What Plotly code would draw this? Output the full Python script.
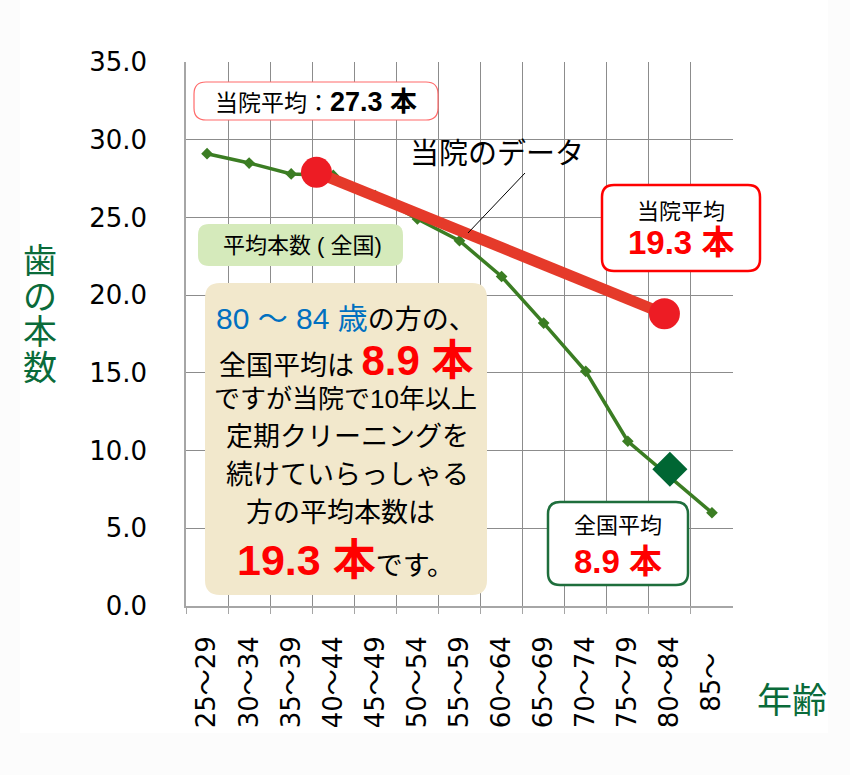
import plotly.graph_objects as go

# ---------------- data ----------------
age_groups = ["25～29", "30～34", "35～39", "40～44", "45～49", "50～54", "55～59",
              "60～64", "65～69", "70～74", "75～79", "80～84", "85～"]
national_avg = [29.1, 28.5, 27.8, 27.7, 26.4, 24.9, 23.5, 21.2, 18.2, 15.1, 10.6, 8.3, 6.0]
clinic_pos = [2.6, 10.87]          # position along the age axis (category index)
clinic_vals = [27.9, 18.8]
highlight_pos = [11]
highlight_vals = [8.8]
y_tickvals = [0, 5, 10, 15, 20, 25, 30, 35]
y_ticktext = ["0.0", "5.0", "10.0", "15.0", "20.0", "25.0", "30.0", "35.0"]

# ---------------- geometry helpers ----------------
W, H = 850, 775
L, R, T, B = 186, 733, 62, 606


def px(x, y):
    return (x - L) / (R - L), (B - y) / (B - T)


def rrect(x0, y0, x1, y1, r):
    def P(x, y):
        a, b = px(x, y)
        return f"{a:.5f},{b:.5f}"
    d = (f"M{P(x0 + r, y0)} L{P(x1 - r, y0)} Q{P(x1, y0)} {P(x1, y0 + r)} "
         f"L{P(x1, y1 - r)} Q{P(x1, y1)} {P(x1 - r, y1)} "
         f"L{P(x0 + r, y1)} Q{P(x0, y1)} {P(x0, y1 - r)} "
         f"L{P(x0, y0 + r)} Q{P(x0, y0)} {P(x0 + r, y0)} Z")
    return d


JP = "Liberation Sans, Noto Sans CJK JP"
GREEN_T = "#0a6b3a"

fig = go.Figure()

fig.add_trace(go.Scatter(
    x=list(range(len(age_groups))), y=national_avg, mode="lines+markers",
    line=dict(color="#3b7d23", width=3.5),
    marker=dict(symbol="diamond", size=9, color="#3b7d23"),
    hoverinfo="skip", showlegend=False))

fig.add_trace(go.Scatter(
    x=highlight_pos, y=highlight_vals, mode="markers",
    marker=dict(symbol="diamond", size=27, color="#006633"),
    hoverinfo="skip", showlegend=False))

fig.add_trace(go.Scatter(
    x=clinic_pos, y=clinic_vals, mode="lines+markers",
    line=dict(color="#e53a2a", width=11),
    marker=dict(symbol="circle", size=31, color="#ed1c24"),
    hoverinfo="skip", showlegend=False))

shapes = []
# white page area
a0 = px(20, 0)
a1 = px(828, 733)
shapes.append(dict(type="rect", xref="paper", yref="paper", x0=a0[0], y0=a1[1], x1=a1[0], y1=a0[1],
                   fillcolor="white", line=dict(width=0), layer="below"))
# boxes
shapes.append(dict(type="path", xref="paper", yref="paper", path=rrect(194, 82, 438, 120, 12),
                   fillcolor="white", line=dict(color="#ff6b6b", width=1.2), layer="above"))
shapes.append(dict(type="path", xref="paper", yref="paper", path=rrect(198, 224, 403, 266, 11),
                   fillcolor="#d5eabb", line=dict(width=0), layer="above"))
shapes.append(dict(type="path", xref="paper", yref="paper", path=rrect(205, 283, 487, 595, 15),
                   fillcolor="#f2e8cc", line=dict(width=0), layer="above"))
shapes.append(dict(type="path", xref="paper", yref="paper", path=rrect(602, 185, 760, 271, 12),
                   fillcolor="white", line=dict(color="#ff0000", width=2.5), layer="above"))
shapes.append(dict(type="path", xref="paper", yref="paper", path=rrect(548, 502, 688, 585, 12),
                   fillcolor="white", line=dict(color="#1e6e3c", width=2.5), layer="above"))
# leader line
l0 = px(525, 173)
l1 = px(468, 233)
shapes.append(dict(type="line", xref="paper", yref="paper", x0=l0[0], y0=l0[1], x1=l1[0], y1=l1[1],
                   line=dict(color="black", width=1), layer="above"))

ann = []


def add_text(x, y, text, size, color="black", family=JP):
    a, b = px(x, y)
    ann.append(dict(xref="paper", yref="paper", x=a, y=b, text=text, showarrow=False,
                    xanchor="center", yanchor="middle",
                    font=dict(size=size, color=color, family=family)))


# axis titles
for i, ch in enumerate(["歯", "の", "本", "数"]):
    add_text(40, 261 + 35.5 * i, ch, 34, GREEN_T)
add_text(792, 700, "年齢", 35, GREEN_T)

add_text(316, 102, "当院平均：<b><span style='font-size:27px'>27.3 本</span></b>", 23)
add_text(497, 154, "当院のデータ", 29)
add_text(302, 245, "平均本数 ( 全国)", 22)

add_text(346, 318, "<span style='color:#0070c0;font-size:30px'>80 ～ 84 歳</span>の方の、", 27)
add_text(346, 360, "全国平均は <b><span style='color:#ff0000;font-size:42px'>8.9 本</span></b>", 27)
add_text(345, 399, "ですが当院で10年以上", 26)
add_text(347, 437, "定期クリーニングを", 27)
add_text(347, 475, "続けていらっしゃる", 27)
add_text(340, 513, "方の平均本数は", 27)
add_text(345, 560, "<b><span style='color:#ff0000;font-size:43px'>19.3 本</span></b>です。", 27)

add_text(681, 211, "当院平均", 22)
add_text(681, 242, "<b>19.3 本</b>", 33, "#ff0000")
add_text(618, 525, "全国平均", 22)
add_text(618, 561, "<b>8.9 本</b>", 33, "#ff0000")

tick_text = [g if g != "85～" else g + "\u00a0\u00a0" for g in age_groups]

fig.update_layout(
    width=W, height=H, autosize=False,
    margin=dict(l=L, r=W - R, t=T, b=H - B, pad=0),
    paper_bgcolor="#fcfcfc", plot_bgcolor="white",
    shapes=shapes, annotations=ann, showlegend=False,
    xaxis=dict(range=[-0.5, 12.5], tickmode="array", tickvals=list(range(len(age_groups))),
               ticktext=tick_text, tickangle=-90, showgrid=False, zeroline=False,
               showline=True, linecolor="#a6a6a6", linewidth=1.5,
               ticks="outside", ticklen=18, tickcolor="rgba(0,0,0,0)",
               tickfont=dict(family="DejaVu Sans, Noto Sans CJK JP", size=26, color="black"),
               minor=dict(tickmode="array", tickvals=[i + 0.5 for i in range(-1, 12)],
                          showgrid=True, gridcolor="#8c8c8c", gridwidth=1,
                          ticks="outside", ticklen=6, tickcolor="#a6a6a6"),
               automargin=False, fixedrange=True),
    yaxis=dict(range=[0, 35], tickmode="array", tickvals=y_tickvals, ticktext=y_ticktext,
               showgrid=True, gridcolor="#8c8c8c", gridwidth=1, zeroline=False,
               showline=True, linecolor="#a6a6a6", linewidth=1.5,
               ticks="outside", ticklen=32, tickcolor="rgba(0,0,0,0)",
               tickfont=dict(family="DejaVu Sans", size=26, color="black"),
               automargin=False, fixedrange=True),
)

fig.write_html("out.html")
